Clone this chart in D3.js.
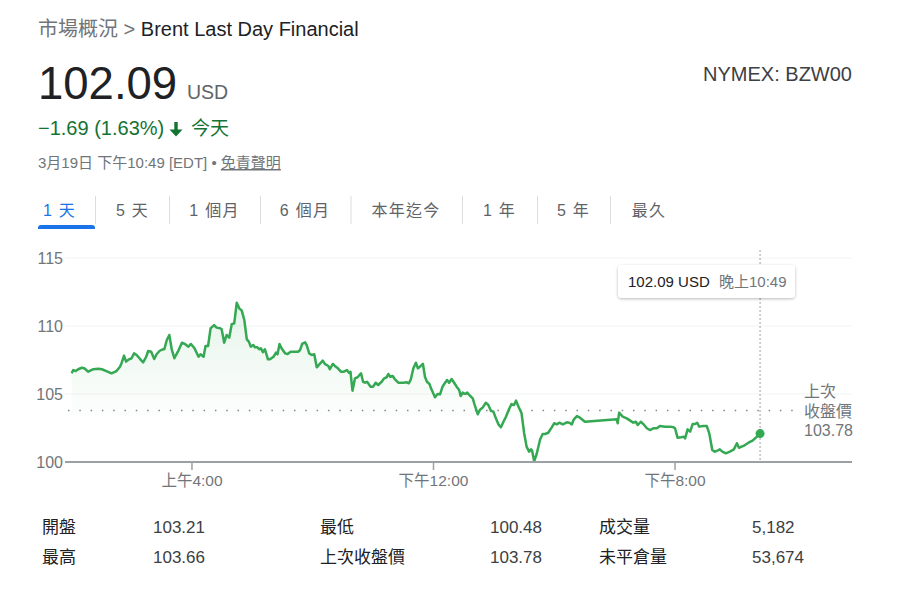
<!DOCTYPE html>
<html><head><meta charset="utf-8">
<script src="https://cdn.jsdelivr.net/npm/d3@7"></script>
<style>
html,body{margin:0;padding:0;background:#fff;}
svg{display:block;font-family:"Liberation Sans",Arial,"Noto Sans CJK TC",sans-serif;}
</style></head>
<body>
<svg id="c" width="905" height="592"></svg>
<script>
// ---- data ----
const minutes = [1,4,9,14,21,26,34,44,54,61,71,80,90,97,100,105,109,115,120,125,130,137,143,149,153,159,165,170,176,182,185,190,195,200,205,212,220,226,233,238,245,253,257,263,267,272,277,284,
289,296,299,304,309,314,319,324,329,334,339,344,349,353,357,362,365,370,374,377,381,385,391,395,402,407,410,414,418,425,430,436,443,451,455,459,465,468,473,478,483,488,494,500,504,511,514,520,524,530,536,542,548,552,
555,559,564,569,573,576,580,584,588,595,600,605,610,617,622,627,630,634,639,643,650,660,667,671,675,680,685,689,693,699,703,707,712,715,723,728,733,738,743,747,751,756,761,766,771,774,778,783,787,793,
798,802,808,812,818,824,829,834,839,844,849,854,859,864,870,875,880,884,889,895,900,905,910,914,916,920,925,932,937,942,948,955,960,965,970,977,985,990,995,999,1005,1011,1021,1084,1086,1089,1096,1104,1111,
1117,1122,1126,1132,1137,1144,1150,1157,1164,1170,1180,1190,1197,1200,1205,1212,1218,1220,1225,1230,1235,1240,1244,1248,1256,1263,1268,1274,1279,1283,1289,1294,1301,1309,1317,1323,1327,1336,1346,1354,1359,1369];
const prices = [106.52,106.76,106.69,106.82,106.93,106.89,106.64,106.82,106.86,106.82,106.67,106.52,106.69,107.01,107.26,107.82,107.38,107.55,107.63,107.99,107.87,107.57,107.33,107.74,108.16,108.11,107.57,107.94,108.18,108.29,108.29,108.97,109.34,108.24,107.63,108.11,108.77,108.68,108.48,108.68,108.36,107.74,107.92,107.74,108.53,108.53,109.83,110.07,
109.88,109.83,109.76,108.77,109.34,109.14,110.13,110.20,111.71,111.30,111.13,110.44,109.02,108.85,108.48,108.60,108.43,108.43,108.29,108.36,108.07,108.29,107.55,107.55,107.74,108.04,107.92,108.68,108.36,107.99,107.94,108.11,108.11,108.11,108.24,108.68,108.80,108.60,107.99,107.87,107.92,106.96,107.21,107.45,107.21,107.06,106.82,107.21,107.06,106.89,106.64,106.64,106.76,106.57,
106.64,105.24,106.15,106.23,106.40,106.52,105.90,105.83,105.90,105.54,105.54,105.83,105.66,105.90,106.15,106.23,106.47,106.27,106.32,106.10,105.83,105.83,105.86,105.79,106.08,106.89,107.30,106.89,107.01,107.21,106.27,105.90,105.74,105.42,104.76,105.00,104.98,105.54,105.83,106.03,105.83,106.10,105.83,105.54,105.29,104.85,105.10,105.00,105.10,104.85,
104.68,104.19,103.51,103.82,104.02,104.36,104.19,103.77,103.70,103.21,102.77,102.55,102.96,103.33,103.88,104.26,104.19,104.51,104.07,103.58,102.15,101.13,100.76,100.93,100.83,100.05,100.59,101.67,102.06,102.06,102.15,102.55,102.85,102.77,102.89,102.77,102.92,102.89,102.77,103.14,103.38,103.26,102.96,103.14,102.85,103.63,103.33,103.21,103.04,
102.89,102.96,102.72,102.96,102.79,102.48,102.35,102.48,102.48,102.65,102.60,102.60,102.55,102.48,101.79,101.82,101.86,101.74,102.40,102.23,102.79,102.79,102.89,102.60,102.65,102.65,102.11,100.88,100.76,100.81,100.93,100.76,100.64,100.76,100.93,101.38,101.05,101.18,101.42,101.57,101.74,102.09];
const yTicks = [100, 105, 110, 115];
const xTickMinutes = [240, 720, 1200];
const xTickLabels = ["上午4:00", "下午12:00", "下午8:00"];
const prevClose = 103.78;
const lastPrice = "102.09";
const tabs = ["1 天", "5 天", "1 個月", "6 個月", "本年迄今", "1 年", "5 年", "最久"];
const statLabels = ["開盤", "最高", "最低", "上次收盤價", "成交量", "未平倉量"];
const statValues = ["103.21", "103.66", "100.48", "103.78", "5,182", "53,674"];

// ---- drawing ----
const svg = d3.select("#c");
const CJK = '"Noto Sans CJK TC","Liberation Sans",Arial,sans-serif';
const green = "#34a853";

// header
const bc = svg.append("text").attr("x", 38).attr("y", 36).attr("font-size", 20);
bc.append("tspan").attr("fill", "#70757a").text("市場概況 > ");
bc.append("tspan").attr("fill", "#202124").text("Brent Last Day Financial");

svg.append("text").attr("x", 38).attr("y", 99).attr("font-size", 45.5).attr("fill", "#202124").text(lastPrice);
svg.append("text").attr("x", 187).attr("y", 99).attr("font-size", 19.5).attr("fill", "#5f6368").text("USD");
svg.append("text").attr("x", 852).attr("y", 81).attr("font-size", 20).attr("text-anchor", "end").attr("fill", "#3c4043").text("NYMEX: BZW00");

svg.append("text").attr("x", 38).attr("y", 135).attr("font-size", 20).attr("fill", "#137333").text("−1.69 (1.63%)");
svg.append("path")
  .attr("d", "M174.3,122 H177.7 V129.5 H182.5 L176,136.5 L169.5,129.5 H174.3 Z").attr("fill", "#137333");
svg.append("text").attr("x", 191).attr("y", 135).attr("font-size", 19).attr("fill", "#137333").style("font-family", CJK).text("今天");

const dl = svg.append("text").attr("x", 38).attr("y", 168).attr("font-size", 15).attr("fill", "#70757a");
dl.append("tspan").text("3月19日 下午10:49 [EDT] • ");
dl.append("tspan").attr("text-decoration", "underline").text("免責聲明");

// tabs
const tabX = [59.5, 132.5, 214.5, 305, 406, 499.5, 573.5, 649];
tabs.forEach((t, i) => {
  svg.append("text").attr("x", tabX[i]).attr("y", 216).attr("text-anchor", "middle")
    .attr("font-size", 16).attr("letter-spacing", 1.3)
    .attr("fill", i === 0 ? "#1a73e8" : "#5f6368").text(t);
});
[95.5, 169.5, 260.5, 351, 462.5, 537.5, 610.5].forEach(x => {
  svg.append("line").attr("x1", x).attr("x2", x).attr("y1", 196).attr("y2", 224)
    .attr("stroke", "#dadce0").attr("stroke-width", 1);
});
svg.append("path").attr("d", "M38,229 L38,228 Q38,225 41,225 L92,225 Q95,225 95,228 L95,229 Z").attr("fill", "#1a73e8");

// scales
const x = d3.scaleLinear().domain([0, 1440]).range([71.2, 795.8]);
const y = d3.scaleLinear().domain([100, 115]).range([462, 258]);
const data = minutes.map((m, i) => ({ m, p: prices[i] }));

// grid lines
svg.append("g").selectAll("line").data(yTicks.filter(v => v > 100)).join("line")
  .attr("x1", 65).attr("x2", 852).attr("y1", d => y(d)).attr("y2", d => y(d))
  .attr("stroke", "#f1f3f4").attr("stroke-width", 1);

// y labels
svg.append("g").selectAll("text").data(yTicks).join("text")
  .attr("x", 63).attr("y", d => y(d) + 5.5).attr("text-anchor", "end")
  .attr("font-size", 16).attr("fill", "#70757a").text(d => d);

// area gradient
const defs = svg.append("defs");
const grad = defs.append("linearGradient").attr("id", "ag").attr("gradientUnits", "userSpaceOnUse")
  .attr("x1", 0).attr("x2", 0).attr("y1", 300).attr("y2", 425);
grad.append("stop").attr("offset", 0).attr("stop-color", green).attr("stop-opacity", 0.13);
grad.append("stop").attr("offset", 1).attr("stop-color", green).attr("stop-opacity", 0);
const sh = defs.append("filter").attr("id", "sh").attr("x", -0.2).attr("y", -0.5).attr("width", 1.4).attr("height", 2);
sh.append("feDropShadow").attr("dx", 0).attr("dy", 1).attr("stdDeviation", 1.5).attr("flood-color", "#000").attr("flood-opacity", 0.28);

svg.append("path").datum(data)
  .attr("d", d3.area().x(d => x(d.m)).y0(y(100)).y1(d => y(d.p)))
  .attr("fill", "url(#ag)");

// previous close dotted line
svg.append("line").attr("x1", 68).attr("x2", 797).attr("y1", y(prevClose)).attr("y2", y(prevClose))
  .attr("stroke", "#80868b").attr("stroke-width", 1.5).attr("stroke-dasharray", "1.5 9.8");

// vertical hover line
svg.append("line").attr("x1", x(1369)).attr("x2", x(1369)).attr("y1", 250).attr("y2", 462)
  .attr("stroke", "#9aa0a6").attr("stroke-width", 1).attr("stroke-dasharray", "2 2");

// price line
svg.append("path").datum(data)
  .attr("d", d3.line().x(d => x(d.m)).y(d => y(d.p)))
  .attr("fill", "none").attr("stroke", green).attr("stroke-width", 2.5).attr("stroke-linejoin", "round");

// axis
svg.append("line").attr("x1", 65).attr("x2", 852).attr("y1", y(100)).attr("y2", y(100))
  .attr("stroke", "#9aa0a6").attr("stroke-width", 2);
svg.append("g").selectAll("line").data(xTickMinutes).join("line")
  .attr("x1", d => x(d)).attr("x2", d => x(d)).attr("y1", y(100)).attr("y2", y(100) + 8)
  .attr("stroke", "#9aa0a6").attr("stroke-width", 1.5);
svg.append("g").selectAll("text").data(xTickMinutes).join("text")
  .attr("x", d => x(d)).attr("y", 486).attr("text-anchor", "middle")
  .attr("font-size", 15.5).attr("fill", "#70757a").text((d, i) => xTickLabels[i]);

// last point
const last = data[data.length - 1];
svg.append("circle").attr("cx", x(last.m)).attr("cy", y(last.p)).attr("r", 4.5).attr("fill", green);

// previous close label
["上次", "收盤價", String(prevClose)].forEach((t, i) => {
  svg.append("text").attr("x", 804).attr("y", 397 + i * 19.5).attr("font-size", 16)
    .attr("fill", "#70757a").text(t);
});

// tooltip
svg.append("rect").attr("x", 618).attr("y", 265).attr("width", 177).attr("height", 33).attr("rx", 4)
  .attr("fill", "#fff").attr("filter", "url(#sh)");
svg.append("text").attr("x", 628).attr("y", 287).attr("font-size", 15).attr("fill", "#202124").text(`${lastPrice} USD`);
svg.append("text").attr("x", 719).attr("y", 287).attr("font-size", 15).attr("fill", "#70757a").text("晚上10:49");

// stats
const colLX = [42, 320, 599], colVX = [153, 490, 752];
statLabels.forEach((l, i) => {
  const c = Math.floor(i / 2), r = i % 2;
  svg.append("text").attr("x", colLX[c]).attr("y", 533 + r * 30).attr("font-size", 17)
    .attr("fill", "#202124").text(l);
  svg.append("text").attr("x", colVX[c]).attr("y", 533 + r * 30).attr("font-size", 17)
    .attr("fill", "#3c4043").text(statValues[i]);
});
</script>
</body></html>
